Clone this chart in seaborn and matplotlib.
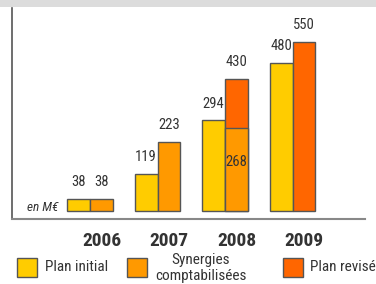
import pandas as pd
import matplotlib.pyplot as plt
import seaborn as sns
from matplotlib import font_manager
from matplotlib.patches import Rectangle

annees = ["2006", "2007", "2008", "2009"]
plan_initial = [38, 119, 294, 480]
synergies = [38, 223, 268, None]
plan_revise = [None, None, 430, 550]
libelles_second = ["38", "223", "430", "550"]

jaune = "#FFCC00"
orange = "#FF9900"
rouge = "#FF6600"
bord = "#555555"
texte = "#333333"

sns.set_style("white")
dispo = {f.name for f in font_manager.fontManager.ttflist}
familles = [f for f in ['Liberation Sans Narrow', 'DejaVu Sans Condensed', 'Roboto Condensed',
                        'Liberation Sans', 'DejaVu Sans'] if f in dispo]
plt.rcParams['font.family'] = familles

fig = plt.figure(figsize=(3.76, 2.84), dpi=100)
ax = fig.add_axes([12 / 376, 65 / 284, 353 / 376, 211 / 284])

# barres de fond : plan initial + plan revisé (dodge par hue)
df_fond = pd.DataFrame({
    "Annee": annees * 2,
    "Serie": ["Plan initial"] * 4 + ["Second"] * 4,
    "Valeur": plan_initial + plan_revise,
})
df_syn = pd.DataFrame({
    "Annee": annees * 2,
    "Serie": ["Plan initial"] * 4 + ["Second"] * 4,
    "Valeur": [None] * 4 + synergies,
})
ordre = ["Plan initial", "Second"]
sns.barplot(data=df_fond, x="Annee", y="Valeur", hue="Serie", hue_order=ordre,
            order=annees, palette=[jaune, rouge], saturation=1, width=0.68, gap=0,
            edgecolor=bord, linewidth=1, ax=ax, legend=False)
sns.barplot(data=df_syn, x="Annee", y="Valeur", hue="Serie", hue_order=ordre,
            order=annees, palette=[jaune, orange], saturation=1, width=0.68, gap=0,
            edgecolor=bord, linewidth=1, ax=ax, legend=False)

ax.set_xlim(-1.156, 4.074)
ax.set_ylim(-27, 660)
ax.set_xlabel("")
ax.set_ylabel("")
ax.set_xticks([])
ax.set_yticks([])
for s in ["top", "right"]:
    ax.spines[s].set_visible(False)
ax.spines["left"].set_color("#555555")
ax.spines["bottom"].set_color("#888888")
ax.spines["left"].set_linewidth(1.2)
ax.spines["bottom"].set_linewidth(1.5)

dx = 0.17
for i, a in enumerate(annees):
    ax.text(i - dx, plan_initial[i] + 32, str(plan_initial[i]), ha="center", va="bottom",
            fontsize=10.5, color=texte)
    haut = plan_revise[i] if plan_revise[i] is not None else synergies[i]
    ax.text(i + dx, haut + 32, libelles_second[i], ha="center", va="bottom",
            fontsize=10.5, color=texte)
    # années sous l'axe, centrées sur la seconde barre
    fig.text((12 + (i + 1.156 + dx) * 67.5) / 376, 1 - 241 / 284, a, ha="center",
             va="center", fontsize=14, fontweight="bold", color=texte)
ax.text(2 + dx, synergies[2] - 110, str(synergies[2]), ha="center", va="center",
        fontsize=10.5, color=texte)

ax.text(-0.474, 9, "en M€", ha="right", va="center", fontsize=9.5,
        style="italic", color=texte)

# bandeau gris en haut
fig.patches.append(Rectangle((0, 1 - 7 / 284), 1, 7 / 284, transform=fig.transFigure,
                             facecolor="#DCDCDC", edgecolor="none"))

# légende manuelle
legende = [(17, jaune, "Plan initial", 45, "left"),
           (127, orange, "Synergies\ncomptabilisées", 201, "center"),
           (283, rouge, "Plan revisé", 310, "left")]
for x0, c, lib, xt, al in legende:
    fig.patches.append(Rectangle((x0 / 376, 1 - 277 / 284), 20 / 376, 19 / 284,
                                 transform=fig.transFigure, facecolor=c,
                                 edgecolor=bord, linewidth=1))
    yt = 268 if "\n" in lib else 267
    fig.text(xt / 376, 1 - yt / 284, lib, ha=al, va="center", fontsize=11,
             color=texte, multialignment="center", linespacing=1.15)

fig.savefig("out.png", dpi=100)
